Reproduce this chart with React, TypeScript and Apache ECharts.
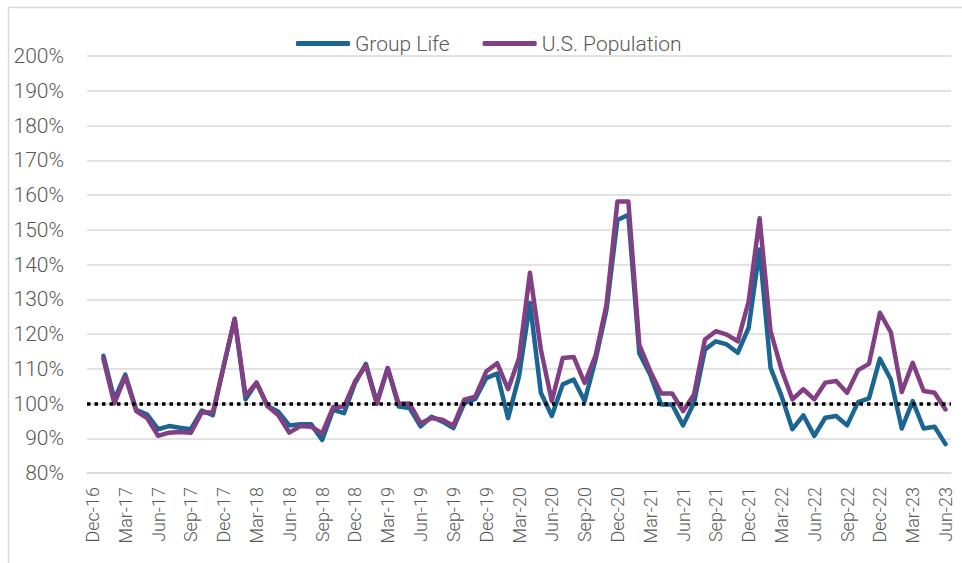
import React, { useEffect, useRef } from "react";
import * as echarts from "echarts";

const categories = [
  "Dec-16",
  "Jan-17", "Feb-17", "Mar-17", "Apr-17", "May-17", "Jun-17", "Jul-17", "Aug-17", "Sep-17", "Oct-17", "Nov-17", "Dec-17",
  "Jan-18", "Feb-18", "Mar-18", "Apr-18", "May-18", "Jun-18", "Jul-18", "Aug-18", "Sep-18", "Oct-18", "Nov-18", "Dec-18",
  "Jan-19", "Feb-19", "Mar-19", "Apr-19", "May-19", "Jun-19", "Jul-19", "Aug-19", "Sep-19", "Oct-19", "Nov-19", "Dec-19",
  "Jan-20", "Feb-20", "Mar-20", "Apr-20", "May-20", "Jun-20", "Jul-20", "Aug-20", "Sep-20", "Oct-20", "Nov-20", "Dec-20",
  "Jan-21", "Feb-21", "Mar-21", "Apr-21", "May-21", "Jun-21", "Jul-21", "Aug-21", "Sep-21", "Oct-21", "Nov-21", "Dec-21",
  "Jan-22", "Feb-22", "Mar-22", "Apr-22", "May-22", "Jun-22", "Jul-22", "Aug-22", "Sep-22", "Oct-22", "Nov-22", "Dec-22",
  "Jan-23", "Feb-23", "Mar-23", "Apr-23", "May-23", "Jun-23",
];

const groupLife = [
  null,
  113.7, 101.2, 108.3, 98.2, 96.8, 92.6, 93.5, 93.0, 92.6, 98.0, 96.6, 110.8,
  124.4, 101.2, 106.0, 99.3, 97.6, 93.7, 94.0, 94.0, 89.5, 98.2, 97.2, 105.8,
  111.4, 100.4, 110.2, 99.1, 98.7, 93.4, 96.2, 94.8, 92.9, 100.1, 101.3, 107.3,
  108.6, 95.8, 107.8, 128.9, 103.1, 96.4, 105.5, 106.9, 100.7, 112.6, 127.0, 152.8,
  154.3, 114.5, 108.3, 99.7, 99.7, 93.7, 100.2, 115.5, 117.9, 117.0, 114.6, 121.8,
  144.3, 110.3, 102.2, 92.6, 96.6, 90.7, 95.9, 96.4, 93.7, 100.4, 101.5, 112.9,
  106.9, 92.8, 100.7, 92.8, 93.3, 88.3,
];

const usPopulation = [
  null,
  112.8, 100.0, 107.8, 97.8, 95.8, 90.7, 91.6, 91.8, 91.6, 97.5, 97.4, 110.8,
  124.4, 102.2, 106.0, 99.3, 96.6, 91.6, 93.5, 93.3, 91.4, 98.9, 99.1, 106.3,
  111.0, 99.9, 110.2, 99.9, 100.0, 94.3, 95.8, 95.3, 93.6, 101.1, 102.0, 109.2,
  111.6, 104.1, 113.0, 137.6, 115.5, 100.7, 113.1, 113.4, 105.9, 113.8, 128.4, 158.1,
  158.1, 116.9, 109.3, 102.9, 102.9, 97.8, 102.6, 118.4, 120.8, 119.8, 117.9, 129.4,
  153.3, 120.8, 109.8, 101.2, 104.1, 101.2, 106.0, 106.5, 103.1, 109.6, 111.4, 126.1,
  120.5, 103.3, 111.7, 103.6, 103.1, 98.3,
];

const baseline = 100;
const yMin = 80;
const yMax = 200;
const yStep = 10;

const FONT = "Roboto, 'Open Sans', sans-serif";
const TEXT = "#595959";
const GRID = "#d9d9d9";
const BLUE = "#1a6592";
const PURPLE = "#823f84";

export default function App() {
  const ref = useRef<HTMLDivElement>(null);

  useEffect(() => {
    document.body.style.margin = "0";
    if (!ref.current) return;
    const chart = echarts.init(ref.current, null, { renderer: "svg" });
    chart.setOption({
      animation: false,
      backgroundColor: "#ffffff",
      textStyle: { fontFamily: FONT },
      graphic: [
        {
          type: "rect",
          left: 6,
          top: 5,
          shape: { width: 1000, height: 600 },
          style: { fill: "none", stroke: GRID, lineWidth: 1.5 },
          silent: true,
          z: -1,
        },
      ],
      legend: {
        left: 291,
        top: 28,
        icon: "roundRect",
        itemWidth: 54,
        itemHeight: 5,
        itemGap: 33,
        textStyle: { fontFamily: FONT, fontSize: 21, color: TEXT, fontWeight: 300 },
        data: ["Group Life", "U.S. Population"],
      },
      grid: { left: 87, right: 11, top: 56, bottom: 90 },
      xAxis: {
        type: "category",
        data: categories,
        boundaryGap: true,
        axisLine: { show: true, lineStyle: { color: GRID, width: 1.5 } },
        axisTick: { show: false },
        axisLabel: {
          interval: 2,
          rotate: 90,
          margin: 14,
          fontFamily: FONT,
          fontSize: 18,
          fontWeight: 300,
          color: TEXT,
        },
      },
      yAxis: {
        type: "value",
        min: yMin,
        max: yMax,
        interval: yStep,
        axisLine: { show: false },
        axisTick: { show: false },
        splitLine: { lineStyle: { color: GRID, width: 1.5 } },
        axisLabel: {
          formatter: "{value}%",
          margin: 23,
          fontFamily: FONT,
          fontSize: 21,
          fontWeight: 300,
          color: TEXT,
        },
      },
      series: [
        {
          name: "Group Life",
          type: "line",
          data: groupLife,
          showSymbol: false,
          symbol: "none",
          connectNulls: false,
          itemStyle: { color: BLUE },
          lineStyle: { color: BLUE, width: 4.5, cap: "round", join: "round" },
          z: 2,
        },
        {
          name: "U.S. Population",
          type: "line",
          data: usPopulation,
          showSymbol: false,
          symbol: "none",
          itemStyle: { color: PURPLE },
          lineStyle: { color: PURPLE, width: 4.5, cap: "round", join: "round" },
          z: 3,
          markLine: {
            silent: true,
            symbol: "none",
            label: { show: false },
            lineStyle: { color: "#000000", width: 3.5, type: [3.5, 4] },
            data: [{ yAxis: baseline }],
          },
        },
      ],
    });
    return () => chart.dispose();
  }, []);

  return <div ref={ref} style={{ width: 962, height: 563 }} />;
}
